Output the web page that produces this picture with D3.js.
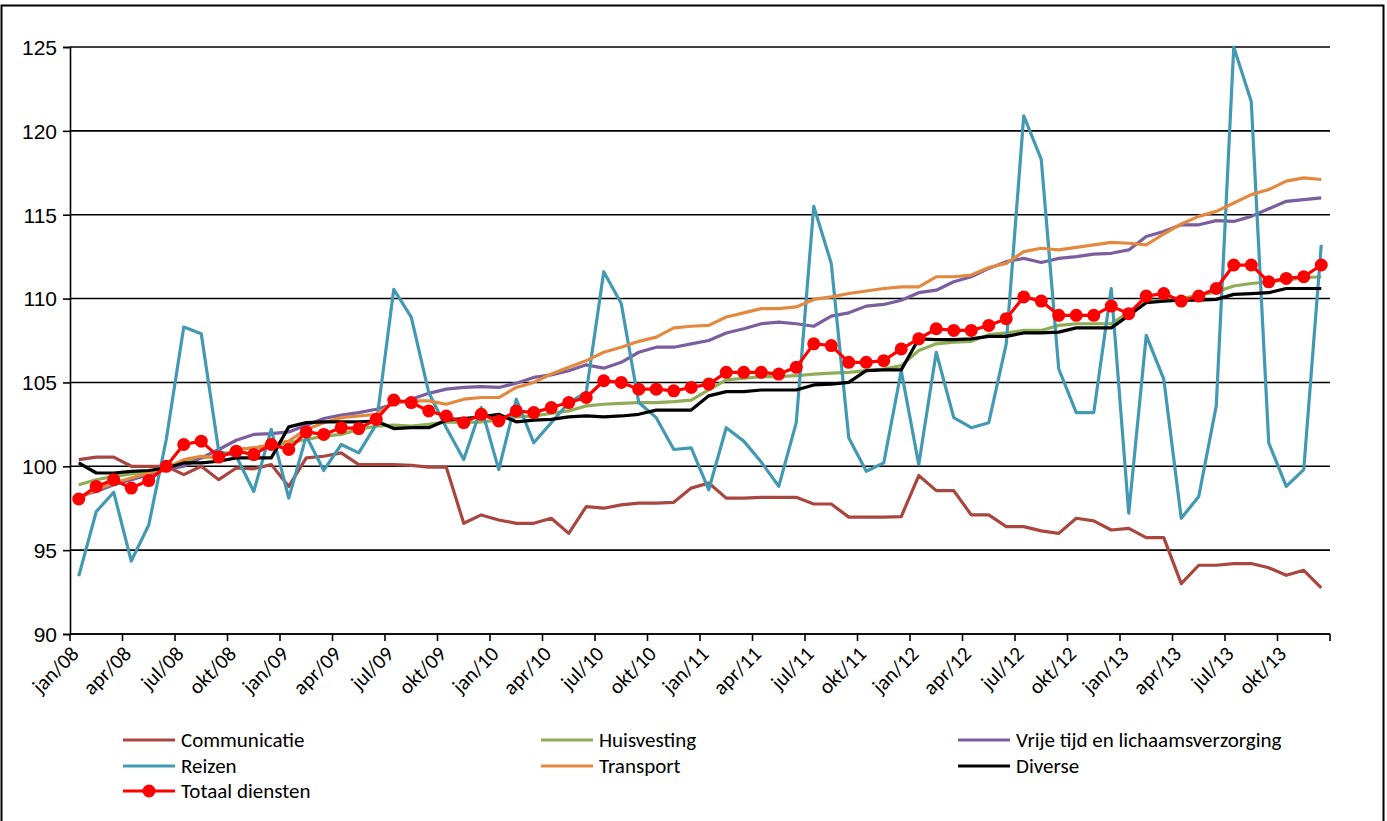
<!DOCTYPE html>
<html lang="nl">
<head>
<meta charset="UTF-8">
<title>Prijsindex diensten</title>
<script src="https://d3js.org/d3.v7.min.js"></script>
<style>
  body { margin: 0; background: #fff; }
  svg { display: block; font-family: Carlito, 'Liberation Sans Narrow', 'Noto Sans', sans-serif; }
  .tick-label { font-size: 21px; fill: #000; }
  .legend-label { font-size: 21px; fill: #000; }
</style>
</head>
<body>
<svg id="chart" width="1387" height="821"></svg>
<script>
// months jan/08 .. dec/13
const monthNames = ["jan", "feb", "mrt", "apr", "mei", "jun", "jul", "aug", "sep", "okt", "nov", "dec"];
const years = ["08", "09", "10", "11", "12", "13"];
const categories = [];
years.forEach(y => monthNames.forEach(m => categories.push(m + "/" + y)));

const yTicks = [90, 95, 100, 105, 110, 115, 120, 125];

// series values
const communicatie = [
  100.4, 100.55, 100.55, 100.0, 100.0, 100.0, 99.5, 100.0, 99.2, 99.9, 99.85, 100.1,
  98.8, 100.5, 100.6, 100.8, 100.1, 100.1, 100.1, 100.05, 99.95, 99.95, 96.6, 97.1,
  96.8, 96.6, 96.6, 96.9, 96.0, 97.6, 97.5, 97.7, 97.8, 97.8, 97.85, 98.7,
  99.0, 98.1, 98.1, 98.15, 98.15, 98.15, 97.75, 97.75, 96.97, 96.97, 96.97, 97.0,
  99.45, 98.55, 98.55, 97.1, 97.1, 96.4, 96.4, 96.15, 96.0, 96.9, 96.75, 96.2,
  96.3, 95.75, 95.75, 93.0, 94.1, 94.1, 94.2, 94.2, 93.95, 93.5, 93.8, 92.75
];
const huisvesting = [
  98.9, 99.2, 99.4, 99.55, 99.7, 99.9, 100.3, 100.5, 100.6, 101.0, 101.1, 101.2,
  101.4, 101.6, 101.8, 101.9, 102.2, 102.4, 102.45, 102.4, 102.5, 102.65, 102.6, 102.65,
  102.75, 102.95, 103.0, 103.15, 103.3, 103.6, 103.7, 103.75, 103.8, 103.8, 103.85, 103.95,
  104.55, 105.15, 105.25, 105.35, 105.35, 105.4, 105.5, 105.55, 105.6, 105.7, 105.8, 106.0,
  106.9, 107.3, 107.4, 107.45, 107.85, 107.95, 108.1, 108.1, 108.4, 108.5, 108.5, 108.5,
  109.2, 109.85, 109.9, 110.0, 110.2, 110.4, 110.75, 110.9, 111.0, 111.1, 111.25, 111.3
];
const vrijeTijd = [
  98.2, 98.5, 98.9, 99.2, 99.5, 99.8, 100.0, 100.5, 101.0, 101.55, 101.9, 101.95,
  102.05, 102.45, 102.85, 103.05, 103.2, 103.4, 103.7, 104.0, 104.35, 104.6, 104.7, 104.75,
  104.7, 104.95, 105.3, 105.45, 105.7, 106.05, 105.85, 106.2, 106.8, 107.1, 107.1, 107.3,
  107.5, 107.95, 108.2, 108.5, 108.6, 108.5, 108.35, 108.95, 109.15, 109.55, 109.65, 109.9,
  110.35, 110.5, 111.0, 111.3, 111.8, 112.2, 112.4, 112.15, 112.4, 112.5, 112.65, 112.7,
  112.9, 113.7, 114.0, 114.4, 114.4, 114.65, 114.6, 114.9, 115.35, 115.8, 115.9, 116.0
];
const reizen = [
  93.45, 97.3, 98.45, 94.35, 96.5, 101.6, 108.3, 107.9, 100.9, 100.6, 98.5, 102.2,
  98.1, 101.8, 99.75, 101.3, 100.8, 102.5, 110.55, 108.9, 104.4, 102.3, 100.4, 103.5,
  99.8, 104.0, 101.4, 102.6, 103.8, 104.4, 111.6, 109.7, 103.8, 102.9, 101.0, 101.1,
  98.6, 102.3, 101.5, 100.25, 98.8, 102.6, 115.5, 112.1, 101.7, 99.7, 100.2, 105.7,
  100.1, 106.8, 102.9, 102.3, 102.6, 107.3, 120.9, 118.3, 105.8, 103.2, 103.2, 110.6,
  97.2, 107.8, 105.2, 96.9, 98.2, 103.6, 125.0, 121.75, 101.4, 98.8, 99.8, 113.2
];
const transport = [
  98.1, 98.6, 99.0, 99.3, 99.6, 99.9, 100.4, 100.6, 100.5, 101.0, 101.1, 101.3,
  101.5, 102.2, 102.6, 102.9, 103.0, 103.1, 103.8, 103.9, 103.9, 103.7, 104.0, 104.1,
  104.1, 104.7, 105.0, 105.5, 105.9, 106.3, 106.8, 107.1, 107.45, 107.7, 108.25, 108.35,
  108.4, 108.9, 109.15, 109.4, 109.4, 109.5, 109.95, 110.1, 110.3, 110.45, 110.6, 110.7,
  110.7, 111.3, 111.3, 111.4, 111.85, 112.1, 112.8, 113.0, 112.9, 113.05, 113.2, 113.35,
  113.3, 113.2, 113.85, 114.45, 114.9, 115.2, 115.7, 116.2, 116.5, 117.0, 117.2, 117.1
];
const diverse = [
  100.2, 99.6, 99.6, 99.7, 99.75, 99.9, 100.2, 100.2, 100.3, 100.5, 100.5, 100.5,
  102.35, 102.6, 102.65, 102.65, 102.65, 102.7, 102.25, 102.3, 102.3, 102.75, 102.85, 102.95,
  103.1, 102.65, 102.75, 102.8, 102.95, 103.0, 102.95, 103.0, 103.1, 103.35, 103.35, 103.35,
  104.2, 104.45, 104.45, 104.55, 104.55, 104.55, 104.85, 104.9, 105.0, 105.7, 105.75, 105.75,
  107.6, 107.55, 107.55, 107.6, 107.75, 107.75, 107.95, 107.95, 108.0, 108.25, 108.25, 108.25,
  109.0, 109.75, 109.85, 109.9, 109.9, 109.95, 110.25, 110.3, 110.35, 110.6, 110.6, 110.6
];
const totaal = [
  98.05, 98.8, 99.2, 98.7, 99.15, 100.0, 101.3, 101.5, 100.55, 100.9, 100.7, 101.3,
  101.0, 102.05, 101.9, 102.3, 102.25, 102.8, 103.95, 103.8, 103.3, 103.0, 102.6, 103.1,
  102.7, 103.3, 103.2, 103.5, 103.8, 104.1, 105.1, 105.0, 104.6, 104.6, 104.5, 104.7,
  104.9, 105.6, 105.6, 105.6, 105.5, 105.9, 107.3, 107.2, 106.2, 106.2, 106.3, 107.0,
  107.6, 108.2, 108.1, 108.1, 108.4, 108.8, 110.1, 109.85, 109.0, 109.0, 109.0, 109.55,
  109.1, 110.15, 110.3, 109.85, 110.15, 110.6, 112.0, 112.0, 111.0, 111.2, 111.3, 112.0
];

const series = [
  { name: "Communicatie", values: communicatie, color: "#a8463f" },
  { name: "Huisvesting", values: huisvesting, color: "#8fad54" },
  { name: "Vrije tijd en lichaamsverzorging", values: vrijeTijd, color: "#7a5e9d" },
  { name: "Reizen", values: reizen, color: "#4299b1" },
  { name: "Transport", values: transport, color: "#e3893f" },
  { name: "Diverse", values: diverse, color: "#000000" },
  { name: "Totaal diensten", values: totaal, color: "#ff0000", marker: true }
];

const svg = d3.select("#chart");

// outer frame
svg.append("rect")
  .attr("x", 1.5).attr("y", 5.5)
  .attr("width", 1382).attr("height", 830)
  .attr("fill", "none").attr("stroke", "#000").attr("stroke-width", 2);

const x = d3.scaleBand().domain(categories).range([70, 1330]).padding(0);
const cx = d => x(d) + x.bandwidth() / 2;
const y = d3.scaleLinear().domain([90, 125]).range([634, 47]);

// gridlines
svg.append("g")
  .selectAll("line")
  .data(yTicks)
  .join("line")
  .attr("x1", 70).attr("x2", 1330)
  .attr("y1", d => y(d)).attr("y2", d => y(d))
  .attr("stroke", "#000").attr("stroke-width", 1.6);

// y axis
const yAxis = svg.append("g")
  .attr("transform", "translate(70,0)")
  .call(d3.axisLeft(y).tickValues(yTicks).tickSize(7).tickPadding(6).tickFormat(d3.format("d")));
yAxis.select(".domain").attr("stroke", "#000").attr("stroke-width", 1.6);
yAxis.selectAll(".tick line").attr("stroke", "#000").attr("stroke-width", 1.6);
yAxis.selectAll("text").attr("class", "tick-label").attr("font-family", null).attr("font-size", null).attr("dy", "0.35em");

// x axis: ticks between categories, every 3 months
const tickCats = categories.filter((d, i) => i % 3 === 0);
const xg = svg.append("g");
xg.append("line")
  .attr("x1", 70).attr("x2", 1330).attr("y1", y(90)).attr("y2", y(90))
  .attr("stroke", "#000").attr("stroke-width", 1.6);
xg.selectAll("line.tk")
  .data(tickCats.map(d => x(d)).concat([1330]))
  .join("line")
  .attr("class", "tk")
  .attr("x1", d => d).attr("x2", d => d)
  .attr("y1", y(90)).attr("y2", y(90) + 7)
  .attr("stroke", "#000").attr("stroke-width", 1.6);
xg.selectAll("text")
  .data(tickCats)
  .join("text")
  .attr("class", "tick-label")
  .attr("text-anchor", "end")
  .attr("transform", d => `translate(${cx(d) - 4},${y(90) + 16}) rotate(-45)`)
  .attr("dy", "0.35em")
  .text(d => d);

// lines
const line = d3.line()
  .x((d, i) => cx(categories[i]))
  .y(d => y(d));

series.forEach(s => {
  svg.append("path")
    .datum(s.values)
    .attr("fill", "none")
    .attr("stroke", s.color)
    .attr("stroke-width", 3.2)
    .attr("stroke-linejoin", "round")
    .attr("d", line);
  if (s.marker) {
    svg.append("g")
      .selectAll("circle")
      .data(s.values)
      .join("circle")
      .attr("cx", (d, i) => cx(categories[i]))
      .attr("cy", d => y(d))
      .attr("r", 6.5)
      .attr("fill", s.color);
  }
});

// legend, three columns
const legendCols = [123, 541, 958];
const legendRows = [740, 766, 791];
const legend = svg.append("g");
series.forEach((s, i) => {
  const lx = legendCols[i % 3];
  const ly = legendRows[Math.floor(i / 3)];
  const g = legend.append("g");
  g.append("line")
    .attr("x1", lx).attr("x2", lx + 52)
    .attr("y1", ly).attr("y2", ly)
    .attr("stroke", s.color).attr("stroke-width", 3.2);
  if (s.marker) {
    g.append("circle").attr("cx", lx + 26).attr("cy", ly).attr("r", 6.5).attr("fill", s.color);
  }
  g.append("text")
    .attr("class", "legend-label")
    .attr("x", lx + 58).attr("y", ly)
    .attr("dy", "0.35em")
    .text(s.name);
});
</script>
</body>
</html>
